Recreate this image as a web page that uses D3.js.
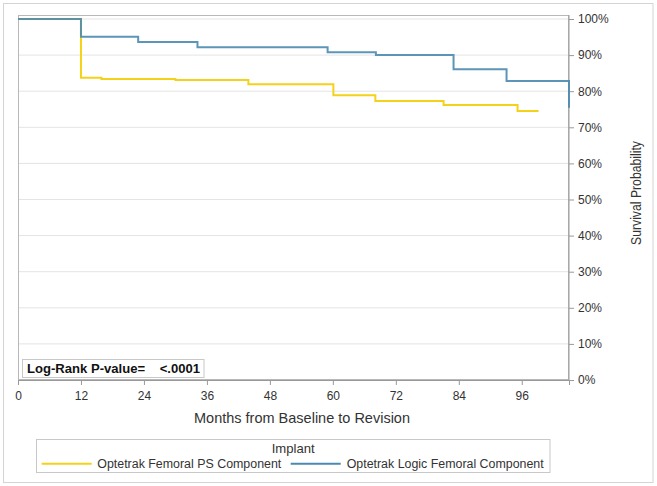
<!DOCTYPE html>
<html><head><meta charset="utf-8">
<script src="https://cdn.jsdelivr.net/npm/d3@7"></script>
<style>
body{margin:0;background:#fff;}
svg text{font-family:"Liberation Sans",Arial,sans-serif;fill:#333;}
</style></head>
<body><svg id="c" width="657" height="486"></svg>
<script>
// Kaplan-Meier step data (months, survival)
const psMonths = [0, 12, 15.9, 30.0, 43.9, 60.1, 68.1, 81.1, 95.2, 99.2];
const psSurv   = [1.0, 0.837, 0.834, 0.831, 0.819, 0.789, 0.773, 0.762, 0.745, 0.745];
const logicMonths = [0, 12, 22.9, 34.2, 59.0, 68.2, 83.0, 93.1, 105];
const logicSurv   = [1.0, 0.951, 0.936, 0.922, 0.908, 0.900, 0.861, 0.828, 0.754];
const xTicks = [0, 12, 24, 36, 48, 60, 72, 84, 96];
const yTicks = [0, 0.1, 0.2, 0.3, 0.4, 0.5, 0.6, 0.7, 0.8, 0.9, 1.0];
const seriesNames = ["Optetrak Femoral PS Component", "Optetrak Logic Femoral Component"];
const seriesColors = ["#f5d21a", "#4a8ab0"];

const svg = d3.select("#c");
svg.append("rect").attr("x",3.5).attr("y",3.5).attr("width",649.5).attr("height",479)
  .attr("fill","none").attr("stroke","#d4d4d4");

const L = 18, R = 569, T = 15, B = 380;
const x = d3.scaleLinear().domain([0, 105]).range([L, R]);
const y = d3.scaleLinear().domain([0, 1]).range([B, 19]);

function fit(sel, len){ return sel.attr("textLength",len).attr("lengthAdjust","spacingAndGlyphs"); }

// gridlines
svg.append("g").selectAll("line").data(yTicks.filter(d=>d>0)).join("line")
  .attr("x1",L).attr("x2",R).attr("y1",d=>y(d)).attr("y2",d=>y(d))
  .attr("stroke","#e4e4e4").attr("stroke-width",1);

// frame
svg.append("rect").attr("x",L+0.5).attr("y",T+0.5).attr("width",R-L-1).attr("height",B-T-1)
  .attr("fill","none").attr("stroke","#b8b8b8");

// x axis
const gx = svg.append("g").attr("transform",`translate(0,${B})`)
  .call(d3.axisBottom(x).tickValues(xTicks).tickSize(5).tickPadding(6).tickFormat(d3.format("d")));
gx.select(".domain").attr("stroke","#999");
gx.selectAll(".tick line").attr("stroke","#999");
gx.selectAll("text").attr("font-size",12).style("fill","#333").attr("font-family","Liberation Sans, Arial");

// y axis right
const gy = svg.append("g").attr("transform",`translate(${R},0)`)
  .call(d3.axisRight(y).tickValues(yTicks).tickSize(5).tickPadding(4).tickFormat(d3.format(".0%")));
gy.select(".domain").attr("stroke","#999").attr("d",`M0,${T}V${B}`);
gy.selectAll(".tick line").attr("stroke","#999");
gy.selectAll("text").attr("font-size",12).style("fill","#333").attr("font-family","Liberation Sans, Arial");

// axis titles
fit(svg.append("text").attr("x",194).attr("y",423)
  .attr("font-size",14.5).text("Months from Baseline to Revision"), 216);
fit(svg.append("text").attr("transform","translate(641,245) rotate(-90)")
  .attr("font-size",14).text("Survival Probability"), 104);

// curves
const line = d3.line().x(d=>x(d[0])).y(d=>y(d[1])).curve(d3.curveStepAfter);
const psData = psMonths.map((m,i)=>[m, psSurv[i]]);
const logicData = logicMonths.map((m,i)=>[m, logicSurv[i]]);
const logicPts = logicData.slice(0, -1).concat([[logicMonths[logicMonths.length-1], logicSurv[logicSurv.length-2]], logicData[logicData.length-1]]);
svg.append("path").datum(psData).attr("d",line).attr("fill","none")
  .attr("stroke",seriesColors[0]).attr("stroke-width",2);
svg.append("path").datum(logicPts).attr("d",line).attr("fill","none")
  .attr("stroke",seriesColors[1]).attr("stroke-width",2).attr("stroke-opacity",0.9);

// log-rank box
svg.append("rect").attr("x",22.5).attr("y",359.5).attr("width",181.5).attr("height",18)
  .attr("fill","#fff").attr("stroke","#c8c8c8");
fit(svg.append("text").attr("x",27).attr("y",372.7).attr("font-size",13).attr("font-weight","bold")
  .style("fill","#111").attr("xml:space","preserve").text("Log-Rank P-value=    <.0001"), 173);

// legend
svg.append("rect").attr("x",36.5).attr("y",439.5).attr("width",513.5).attr("height",33)
  .attr("fill","#fff").attr("stroke","#c8c8c8");
fit(svg.append("text").attr("x",271.7).attr("y",452.7).attr("font-size",13).text("Implant"), 43);
const legX = [41.7, 290.7], txtX = [97.3, 346.7], txtW = [184, 197];
seriesNames.forEach((n,i)=>{
  svg.append("line").attr("x1",legX[i]).attr("x2",legX[i]+50).attr("y1",463.7).attr("y2",463.7)
    .attr("stroke",seriesColors[i]).attr("stroke-width",2);
  fit(svg.append("text").attr("x",txtX[i]).attr("y",467.5).attr("font-size",12.5).text(n), txtW[i]);
});
</script></body></html>
